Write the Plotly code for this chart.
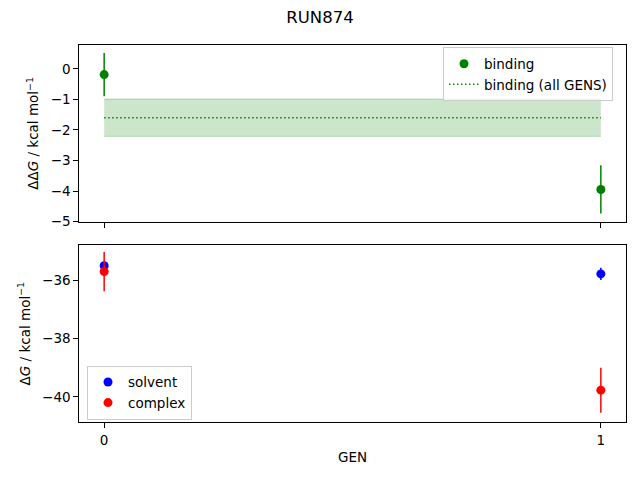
import plotly.graph_objects as go
from plotly.subplots import make_subplots

# ---- data ----
gens = [0, 1]
binding = [-0.19, -3.95]
binding_err = [0.71, 0.79]
binding_all = -1.60
binding_all_err = 0.61

solvent = [-35.51, -35.79]
solvent_err = [0.08, 0.21]
complex_ = [-35.71, -39.77]
complex_err = [0.67, 0.77]

FONT = "DejaVu Sans"

fig = make_subplots(rows=2, cols=1, shared_xaxes=True)

# ---- top: binding ----
fig.add_trace(go.Scatter(x=gens, y=[binding_all - binding_all_err] * 2, mode="lines",
                         line=dict(color="rgba(0,128,0,0.25)", width=1),
                         showlegend=False, hoverinfo="skip"), row=1, col=1)
fig.add_trace(go.Scatter(x=gens, y=[binding_all + binding_all_err] * 2, mode="lines",
                         line=dict(color="rgba(0,128,0,0.25)", width=1),
                         fill="tonexty", fillcolor="rgba(0,128,0,0.2)",
                         showlegend=False, hoverinfo="skip"), row=1, col=1)
fig.add_trace(go.Scatter(x=gens, y=binding, mode="markers", name="binding",
                         marker=dict(color="green", size=9),
                         error_y=dict(type="data", array=binding_err, color="green",
                                      thickness=1.5, width=0)), row=1, col=1)
fig.add_trace(go.Scatter(x=gens, y=[binding_all] * 2, mode="lines",
                         name="binding (all GENS)",
                         line=dict(color="green", width=1.5, dash="1.5px,2.5px")), row=1, col=1)

# ---- bottom: solvent / complex ----
fig.add_trace(go.Scatter(x=gens, y=solvent, mode="markers", name="solvent", legend="legend2",
                         marker=dict(color="blue", size=9),
                         error_y=dict(type="data", array=solvent_err, color="blue",
                                      thickness=1.5, width=0)), row=2, col=1)
fig.add_trace(go.Scatter(x=gens, y=complex_, mode="markers", name="complex", legend="legend2",
                         marker=dict(color="red", size=9),
                         error_y=dict(type="data", array=complex_err, color="red",
                                      thickness=1.5, width=0)), row=2, col=1)

axis_style = dict(showline=True, linecolor="black", linewidth=1, mirror=True,
                  ticks="outside", ticklen=5, tickcolor="black", showgrid=False,
                  zeroline=False, automargin=False,
                  tickfont=dict(family=FONT, size=13.5, color="black"))

fig.update_xaxes(**axis_style, range=[-0.05, 1.05], tickvals=gens, domain=[0.1143, 0.9899])
fig.update_xaxes(showticklabels=False, row=1, col=1)
fig.update_xaxes(title=dict(text="GEN", standoff=6, font=dict(family=FONT, size=13.5)),
                 row=2, col=1)

fig.update_yaxes(**axis_style)
fig.update_yaxes(range=[-5.005, 0.78], dtick=1, domain=[0.5394, 0.9203],
                 title=dict(text="ΔΔ<i>G</i> / kcal mol<sup>−1</sup>", standoff=8,
                            font=dict(family=FONT, size=13.5)), row=1, col=1)
fig.update_yaxes(range=[-40.87, -34.8], tickvals=[-40, -38, -36], domain=[0.1071, 0.4892],
                 title=dict(text="Δ<i>G</i> / kcal mol<sup>−1</sup>", standoff=8,
                            font=dict(family=FONT, size=13.5)), row=2, col=1)

legend_style = dict(bgcolor="rgba(255,255,255,0.8)", bordercolor="#cccccc", borderwidth=1,
                    font=dict(family=FONT, size=13.5, color="black"), xanchor="left",
                    yanchor="top", traceorder="normal")

# page body adds an 8 px margin, so the figure is drawn a bit smaller
fig.update_layout(
    width=624, height=464, autosize=False,
    margin=dict(l=0, r=0, t=0, b=0),
    plot_bgcolor="white", paper_bgcolor="white",
    font=dict(family=FONT, color="black"),
    title=dict(text="RUN874", x=0.5, xanchor="center", y=0.9806, yanchor="middle",
               font=dict(family=FONT, size=16.5, color="black")),
    legend=dict(x=0.6971, y=0.915, **legend_style),
    legend2=dict(x=0.1266, y=0.229, **legend_style),
)

fig.write_html("out.html")
